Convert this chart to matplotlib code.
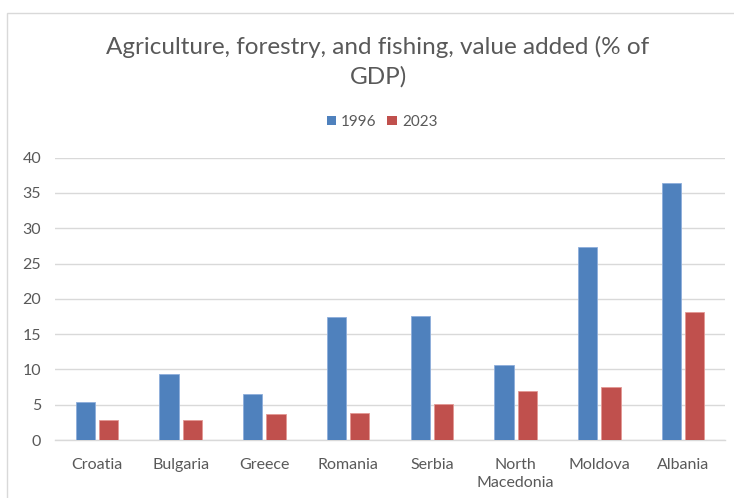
import matplotlib
matplotlib.use("Agg")
import matplotlib.pyplot as plt
import numpy as np
from matplotlib.patches import Rectangle, Patch

countries = ["Croatia", "Bulgaria", "Greece", "Romania", "Serbia",
             "North\nMacedonia", "Moldova", "Albania"]
values_1996 = [5.4, 9.4, 6.5, 17.4, 17.6, 10.6, 27.4, 36.4]
values_2023 = [2.9, 2.9, 3.7, 3.8, 5.1, 6.9, 7.5, 18.2]
series_labels = ["1996", "2023"]
y_ticks = [0, 5, 10, 15, 20, 25, 30, 35, 40]

BLUE = "#4F81BD"
RED = "#C0504D"
TEXT = "#595959"
GRID = "#D9D9D9"
FONT = "Lato"

W, H = 734, 498
fig = plt.figure(figsize=(W / 100, H / 100), dpi=100)
fig.patch.set_facecolor("white")

# chart frame
fig.patches.append(Rectangle((7 / W, -0.2), 1.2, 1.2 - 13 / H,
                             transform=fig.transFigure, fill=False,
                             edgecolor=GRID, linewidth=1.0, zorder=0))

ax = fig.add_axes([55 / W, 58 / H, 670 / W, 282.3 / H])
x = np.arange(len(countries))
bw = 0.23
ax.bar(x - 0.14, values_1996, width=bw, color=BLUE, edgecolor="#8EAEDB",
       linewidth=0.6, zorder=3, label=series_labels[0])
ax.bar(x + 0.14, values_2023, width=bw, color=RED, edgecolor="#E39894",
       linewidth=0.6, zorder=3, label=series_labels[1])

ax.set_xlim(-0.5, len(countries) - 0.5)
ax.set_ylim(0, 40)
ax.set_yticks(y_ticks)
ax.set_xticks(x)
ax.set_xticklabels(countries, fontsize=11.5, color=TEXT, family=FONT,
                   linespacing=1.35, va="top")
ax.set_yticklabels([str(v) for v in y_ticks], fontsize=11.5, color=TEXT,
                   family=FONT)
ax.tick_params(axis="both", length=0)
ax.tick_params(axis="x", pad=13)
ax.tick_params(axis="y", pad=10)
ax.grid(axis="y", color=GRID, linewidth=1.0, zorder=0)
for s in ["top", "right", "left"]:
    ax.spines[s].set_visible(False)
ax.spines["bottom"].set_color(GRID)
ax.spines["bottom"].set_linewidth(1.0)

fig.text(378 / W, 1 - 47 / H, "Agriculture, forestry, and fishing, value added (% of",
         ha="center", va="center", fontsize=17.5, color=TEXT, family=FONT)
fig.text(378 / W, 1 - 77 / H, "GDP)",
         ha="center", va="center", fontsize=17.5, color=TEXT, family=FONT)

handles = [Patch(facecolor=BLUE), Patch(facecolor=RED)]
fig.legend(handles, series_labels, loc="center",
           bbox_to_anchor=(382 / W, 1 - 122 / H), ncol=2, frameon=False,
           handlelength=0.6, handleheight=0.6, handletextpad=0.35,
           columnspacing=0.7, prop={"family": FONT, "size": 11},
           labelcolor=TEXT)

fig.savefig("out.png", dpi=100, facecolor="white")
